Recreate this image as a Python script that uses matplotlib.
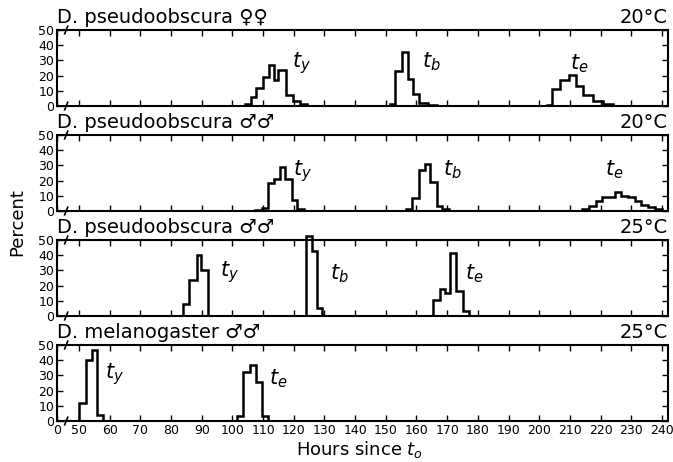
## ============================================================
## 발생 시간 분포 히스토그램 (Hours since t_o)
## ============================================================
import numpy as np
import matplotlib.pyplot as plt

## ------------------------------------------------------------
## 데이터 : 구간 경계(시간) / 백분율
## ------------------------------------------------------------
titles = ['D. pseudoobscura \u2640\u2640', 'D. pseudoobscura \u2642\u2642',
          'D. pseudoobscura \u2642\u2642', 'D. melanogaster \u2642\u2642']
temps  = ['20°C', '20°C', '25°C', '25°C']

# panel 1 : pseudoobscura females 20C
p1_ty_edges = [104.1, 105.9, 107.7, 110.0, 112.0, 113.5, 114.7, 117.6, 119.8, 122.0, 124.2]
p1_ty_vals  = [1, 6, 12, 19, 27, 17, 24, 7, 3, 1]
p1_tb_edges = [151.3, 152.9, 155.4, 157.3, 158.9, 160.8, 163.8, 166.7]
p1_tb_vals  = [1, 23, 35.5, 18, 8, 2, 0.5]
p1_te_edges = [202.5, 204.3, 206.7, 209.7, 212.1, 214.3, 217.5, 220.8, 224.0]
p1_te_vals  = [0.5, 11, 17, 20.5, 13, 7, 3, 1]

# panel 2 : pseudoobscura males 20C
p2_ty_edges = [107.3, 109.5, 111.7, 113.5, 115.5, 117.2, 119.3, 121.2, 123.3]
p2_ty_vals  = [0.7, 2, 18.6, 21, 29, 21, 7, 1]
p2_tb_edges = [156.5, 158.7, 160.8, 162.7, 164.5, 166.7, 168.4, 170.6]
p2_tb_vals  = [1, 8.5, 27, 31, 19, 3, 1]
p2_te_edges = [214.1, 216.2, 218.4, 220.6, 222.7, 224.6, 226.8, 228.9, 231.1, 233.3, 235.4, 237.6, 240.1]
p2_te_vals  = [1, 3, 6.5, 9, 9.5, 12.5, 10, 9, 6.5, 4, 2.5, 1]

# panel 3 : pseudoobscura males 25C
p3_ty_edges = [84.0, 85.9, 88.3, 89.9, 92.1]
p3_ty_vals  = [8, 23.7, 40, 30]
p3_tb_edges = [123.9, 125.8, 127.6, 129.2]
p3_tb_vals  = [52.6, 43, 5]
p3_te_edges = [165.4, 167.6, 169.2, 170.8, 172.8, 175.2, 177.1]
p3_te_vals  = [10.8, 18, 15.4, 41.6, 16.3, 3]

# panel 4 : melanogaster males 25C
p4_ty_edges = [50.1, 52.3, 54.1, 56.0, 57.9]
p4_ty_vals  = [11.8, 40.4, 47, 4]
p4_te_edges = [101.6, 103.5, 105.7, 107.6, 109.5, 111.7]
p4_te_vals  = [3.3, 32, 36.7, 25.5, 3.3]

panels = [
    [(p1_ty_edges, p1_ty_vals, '$t_y$', 122.6, 28),
     (p1_tb_edges, p1_tb_vals, '$t_b$', 165.0, 29),
     (p1_te_edges, p1_te_vals, '$t_e$', 213.2, 28)],
    [(p2_ty_edges, p2_ty_vals, '$t_y$', 123.0, 26),
     (p2_tb_edges, p2_tb_vals, '$t_b$', 171.8, 27),
     (p2_te_edges, p2_te_vals, '$t_e$', 224.6, 27)],
    [(p3_ty_edges, p3_ty_vals, '$t_y$', 99.2, 29),
     (p3_tb_edges, p3_tb_vals, '$t_b$', 135.0, 28),
     (p3_te_edges, p3_te_vals, '$t_e$', 179.0, 28)],
    [(p4_ty_edges, p4_ty_vals, '$t_y$', 61.7, 31),
     (p4_te_edges, p4_te_vals, '$t_e$', 114.8, 28)],
]

x_left, x_right = 42.8, 242.0
xticks  = [x_left] + list(range(50, 241, 10))
xlabels = ['0'] + [str(v) for v in range(50, 241, 10)]

## ------------------------------------------------------------
## 그래프
## ------------------------------------------------------------
fig = plt.figure(figsize=(6.73, 4.62), dpi=100)
tops = [30, 135, 240, 345]
H = 76

for i, (items, title, temp) in enumerate(zip(panels, titles, temps)):
    top = tops[i]
    ax = fig.add_axes([57/673, 1 - (top + H)/462, 611/673, H/462])

    for edges, vals, lab, lx, ly in items:
        ax.stairs(vals, edges, color='black', lw=1.8, baseline=0, clip_on=False)
        ax.text(lx, ly, lab, fontsize=15, ha='center', va='center')

    ax.set_xlim(x_left, x_right)
    ax.set_ylim(0, 50)
    ax.set_yticks([0, 10, 20, 30, 40, 50])
    ax.set_xticks(xticks)
    ax.tick_params(axis='both', direction='in', length=4, width=1, top=True, right=True,
                   labelsize=9, pad=2)
    if i < 3:
        ax.set_xticklabels([])
    else:
        ax.set_xticklabels(xlabels)
    for sp in ax.spines.values():
        sp.set_linewidth(1.5)

    # 축 끊김 표시 (//)
    for yy in (0, 50):
        ax.plot([45.3, 46.3], [yy - 2.5, yy + 2.5], color='black', lw=1.2, clip_on=False)

    ax.text(0.0, 1.04, title, transform=ax.transAxes, fontsize=14, ha='left', va='bottom')
    ax.text(1.0, 1.04, temp, transform=ax.transAxes, fontsize=14, ha='right', va='bottom')

fig.text(0.025, 0.52, 'Percent', rotation=90, fontsize=13, ha='center', va='center')
fig.text(0.535, 0.005, 'Hours since $t_o$', fontsize=13, ha='center', va='bottom')

plt.savefig('out.png', dpi=100)
